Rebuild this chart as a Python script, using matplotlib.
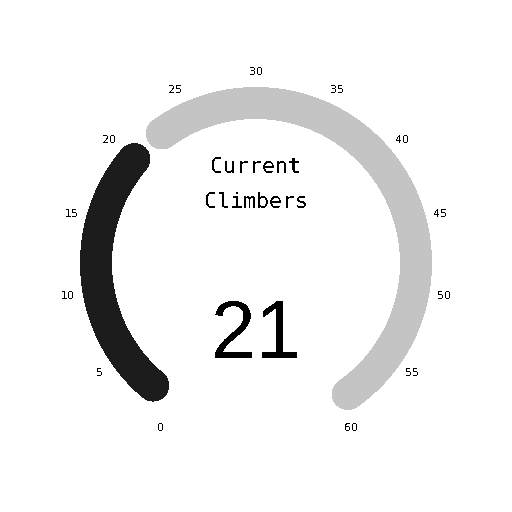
import numpy as np
import matplotlib
matplotlib.use("Agg")
import matplotlib.pyplot as plt

# gauge data
value = 21
gauge_max = 60
tick_values = list(range(0, 61, 5))
title_lines = ["Current", "Climbers"]

plt.rcParams['text.antialiased'] = False

START_DEG = 240.0   # angle of value 0
SWEEP_DEG = 300.0   # clockwise sweep to gauge_max
R = 160.0           # arc radius (pixels)
R_LABEL = 191.0


def val2ang(v):
    return np.radians(START_DEG - SWEEP_DEG * v / gauge_max)


def arc(ax, v0, v1, color):
    t = np.linspace(val2ang(v0), val2ang(v1), 200)
    ax.plot(R * np.cos(t), R * np.sin(t), color=color, lw=22.3,
            solid_capstyle='round', antialiased=False)


fig = plt.figure(figsize=(5.12, 5.12), dpi=100)
ax = fig.add_axes([0, 0, 1, 1])
ax.set_xlim(-256, 256)
ax.set_ylim(-249, 263)
ax.set_aspect('equal')
ax.axis('off')

# filled part and remaining part, with a gap around the ends
arc(ax, value - 19.0, value - 0.9, '#1c1c1c')
arc(ax, value + 1.8, gauge_max - 1.0, '#c4c4c4')

for v in tick_values:
    a = val2ang(v)
    ax.text(R_LABEL * np.cos(a), R_LABEL * np.sin(a), str(v),
            ha='center', va='center', fontsize=8, family='DejaVu Sans')

ax.text(0, 90, title_lines[0], ha='center', va='baseline',
        fontsize=15.6, family='DejaVu Sans Mono')
ax.text(0, 55, title_lines[1], ha='center', va='baseline',
        fontsize=15.6, family='DejaVu Sans Mono')
ax.text(0, -95, str(value), ha='center', va='baseline',
        fontsize=58, family='Liberation Sans')

fig.savefig('out.png', dpi=100, facecolor='white')
